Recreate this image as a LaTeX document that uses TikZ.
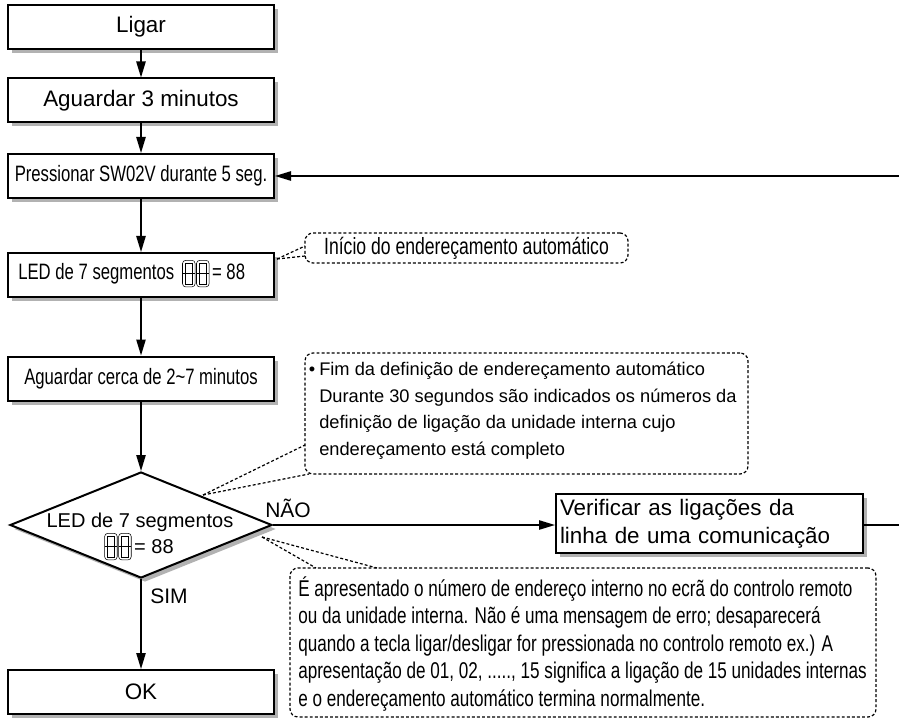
\documentclass[tikz,border=0pt]{standalone}
\usepackage{fontspec}
\setmainfont{Liberation Sans}
\newfontfamily\narrowfont[FakeStretch=0.75]{Liberation Sans}
\usetikzlibrary{shapes.geometric,arrows.meta,shadows}
\newdimen\pxu \pxu=0.75pt
\colorlet{shadowgray}{black!30}
\newcommand\sevenseg{\tikz[baseline=5.2pt,x=1pt,y=1pt,line width=0.4pt,solid]{%
  \foreach \dd in {0,10.5}{%
    \draw[rounded corners=2.5pt] (\dd,0) rectangle (\dd+9.5,20);
    \draw (\dd+2.3,2.3) rectangle (\dd+7.2,17.7);
    \draw (\dd,10) -- (\dd+9.5,10);
  }}}
\tikzset{
  box/.style={draw, line width=1.5pt, fill=white, minimum width=266\pxu,
    minimum height=44\pxu, inner sep=0pt,
    general shadow={fill=shadowgray, shadow xshift=3pt, shadow yshift=-3pt}},
  dia/.style={diamond, draw, line width=1.5pt, fill=white, minimum width=262\pxu,
    minimum height=106\pxu, inner sep=0pt,
    general shadow={fill=shadowgray, shadow xshift=3pt, shadow yshift=-3pt}},
  arr/.style={line width=1.1pt, -{Triangle[length=12pt,width=7pt]}},
  plain/.style={line width=1.1pt},
  callout/.style={draw, dash pattern=on 2.2pt off 1.6pt, line width=0.9pt,
    rounded corners=6pt, inner sep=0pt},
  lead/.style={dash pattern=on 2.2pt off 1.6pt, line width=0.9pt},
  big/.style={font=\fontsize{16.8pt}{21pt}\selectfont},
  nar/.style={font=\narrowfont\fontsize{16.7pt}{20pt}\selectfont},
  txt/.style={inner sep=0pt},
  dtext/.style={txt, font=\fontsize{15pt}{18pt}\selectfont},
  lbl/.style={txt, font=\fontsize{15.75pt}{18pt}\selectfont},
  ctwo/.style={txt, anchor=base west, font=\fontsize{13.7pt}{16pt}\selectfont},
  cthree/.style={txt, anchor=base west, font=\narrowfont\fontsize{17.1pt}{20pt}\selectfont},
}
\begin{document}
\begin{tikzpicture}[x=0.75pt,y=-0.75pt]
\fill[white] (0,0) rectangle (899,720);
\useasboundingbox (0,0) rectangle (899,720);

% main column
\node[box, big] (ligar) at (141,27) {Ligar};
\node[box, big] (wait3) at (141,100.5) {Aguardar 3 minutos};
\node[box, nar] (press) at (141,176) {Pressionar SW02V durante 5 seg.};
\node[box] (ledbox) at (141,275) {};
\node[txt, nar, anchor=base west] (ledtxt) at (18,280)
  {LED de 7 segmentos\hspace{6pt}\sevenseg\hspace{2pt}= 88};
\node[box, nar] (wait27) at (141,378.5) {Aguardar cerca de 2\textasciitilde 7 minutos};
\node[dia] (dec) at (141,525) {};
\node[dtext, anchor=base] (dt1) at (140,527) {LED de 7 segmentos};
\node[dtext, anchor=base] (dt2) at (139,553) {\sevenseg\hspace{2pt}= 88};
\node[box, big] (ok) at (141,692) {OK};
\node[box, font=\fontsize{16.8pt}{21pt}\selectfont, minimum width=307\pxu,
  minimum height=59\pxu, text width=299\pxu, align=left, inner xsep=4\pxu]
  (verif) at (709.5,523.5) {Verificar as ligações da\\linha de uma comunicação};

% connectors
\draw[arr] (ligar) -- (wait3);
\draw[arr] (wait3) -- (press);
\draw[arr] (press) -- (ledbox);
\draw[arr] (ledbox) -- (wait27);
\draw[arr] (wait27) -- (dec.north);
\draw[arr] (dec.south) -- (ok.north);
\draw[arr] (dec.east) -- (dec.east -| verif.west);
\coordinate (fbR) at (899,176);
\coordinate (vR) at (899,525);
\draw[arr] (fbR) -- (press.east);
\draw[plain] (vR -| verif.east) -- (vR);
\node[lbl, anchor=base west] (nao) at (265,517) {NÃO};
\node[lbl, anchor=base west] (sim) at (150,603) {SIM};

% callout 1
\node[callout, minimum width=323\pxu, minimum height=30\pxu,
  font=\narrowfont\fontsize{17.6pt}{20pt}\selectfont] (c1) at (466.5,248)
  {Início do endereçamento automático};
\coordinate (t1) at (277,259);
\coordinate (c1a) at (305,246);
\coordinate (c1b) at (305,256);
\draw[lead] (t1) -- (c1a);
\draw[lead] (t1) -- (c1b);

% callout 2
\node[callout, minimum width=443\pxu, minimum height=121\pxu] (c2) at (526.5,413.5) {};
\coordinate (t2) at (203,495);
\coordinate (c2a) at (305,445);
\coordinate (c2b) at (309,474);
\draw[lead] (t2) -- (c2a);
\draw[lead] (t2) -- (c2b);
\node[ctwo] (c2l1) at (319,375) {\llap{•\hspace{3pt}}Fim da definição de endereçamento automático};
\node[ctwo] (c2l2) at (319,402) {Durante 30 segundos são indicados os números da};
\node[ctwo] (c2l3) at (319,428.5) {definição de ligação da unidade interna cujo};
\node[ctwo] (c2l4) at (319,455) {endereçamento está completo};

% callout 3
\node[callout, minimum width=586\pxu, minimum height=149\pxu] (c3) at (583,642.5) {};
\coordinate (t3) at (262,537);
\coordinate (c3a) at (316,568);
\coordinate (c3b) at (377,568);
\draw[lead] (t3) -- (c3a);
\draw[lead] (t3) -- (c3b);
\node[cthree] (c3l1) at (298,596) {É apresentado o número de endereço interno no ecrã do controlo remoto};
\node[cthree] (c3l2) at (298,623.5) {ou da unidade interna. Não é uma mensagem de erro; desaparecerá};
\node[cthree] (c3l3) at (298,651) {quando a tecla ligar/desligar for pressionada no controlo remoto ex.) A};
\node[cthree] (c3l4) at (298,678.5) {apresentação de 01, 02, ....., 15 significa a ligação de 15 unidades internas};
\node[cthree] (c3l5) at (298,706) {e o endereçamento automático termina normalmente.};
\end{tikzpicture}
\end{document}
